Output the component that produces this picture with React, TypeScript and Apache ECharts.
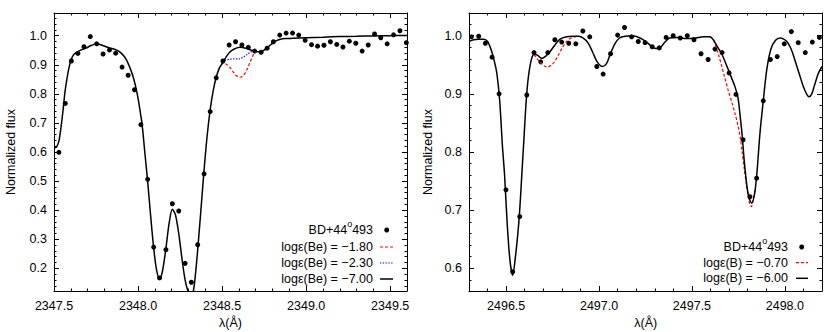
import React, { useEffect, useRef } from "react";
import * as echarts from "echarts";

// ---------- Left panel: Be II region ----------
const BE_OBS_WL = [
  2347.529, 2347.567, 2347.603, 2347.642, 2347.678, 2347.716, 2347.754, 2347.792, 2347.83, 2347.867,
  2347.905, 2347.941, 2347.979, 2348.017, 2348.057, 2348.093, 2348.128, 2348.166, 2348.204, 2348.242,
  2348.28, 2348.317, 2348.355, 2348.393, 2348.429, 2348.465, 2348.505, 2348.542, 2348.58, 2348.618,
  2348.656, 2348.694, 2348.732, 2348.768, 2348.805, 2348.843, 2348.881, 2348.919, 2348.956, 2348.994,
  2349.032, 2349.068, 2349.106, 2349.144, 2349.182, 2349.219, 2349.257, 2349.295, 2349.333, 2349.369,
  2349.407, 2349.444, 2349.482, 2349.52, 2349.558, 2349.596,
];
const BE_OBS_FLUX = [
  0.599, 0.767, 0.913, 0.939, 0.962, 0.997, 0.972, 0.937, 0.951, 0.94,
  0.892, 0.864, 0.814, 0.694, 0.506, 0.273, 0.167, 0.264, 0.422, 0.397,
  0.217, 0.152, 0.281, 0.525, 0.739, 0.855, 0.913, 0.968, 0.979, 0.968,
  0.96, 0.947, 0.943, 0.957, 0.979, 1.002, 1.009, 1.009, 1.002, 0.984,
  0.969, 0.964, 0.967, 0.979, 0.97, 0.961, 0.981, 0.974, 0.947, 0.968,
  1.006, 0.993, 0.972, 1.003, 1.017, 0.976,
];
const BE_MODEL_WL = [
  2347.5, 2347.515, 2347.53, 2347.545, 2347.555, 2347.565, 2347.575, 2347.59, 2347.605, 2347.62,
  2347.65, 2347.69, 2347.72, 2347.755, 2347.79, 2347.83, 2347.87, 2347.9, 2347.93, 2347.955,
  2347.975, 2347.995, 2348.01, 2348.025, 2348.04, 2348.057, 2348.075, 2348.093, 2348.11, 2348.128,
  2348.145, 2348.165, 2348.185, 2348.204, 2348.222, 2348.242, 2348.262, 2348.28, 2348.3, 2348.315,
  2348.33, 2348.345, 2348.36, 2348.378, 2348.393, 2348.41, 2348.429, 2348.447, 2348.465, 2348.485,
  2348.505, 2348.525, 2348.548, 2348.575, 2348.607, 2348.64, 2348.67, 2348.7, 2348.73, 2348.75,
  2348.768, 2348.787, 2348.807, 2348.827, 2348.847, 2348.88, 2348.92, 2349.0, 2349.1, 2349.2,
  2349.3, 2349.4, 2349.5, 2349.6,
];
const BE_MODEL_FLUX = [
  0.614, 0.617, 0.64, 0.7, 0.75, 0.805, 0.845, 0.892, 0.922, 0.937,
  0.948, 0.957, 0.966, 0.972, 0.966, 0.958, 0.951, 0.94, 0.918, 0.885,
  0.85, 0.8, 0.75, 0.69, 0.6, 0.5, 0.38, 0.27, 0.195, 0.163,
  0.19, 0.265, 0.355, 0.403, 0.385, 0.32, 0.23, 0.16, 0.115, 0.1,
  0.125, 0.2, 0.3, 0.43, 0.54, 0.65, 0.745, 0.81, 0.857, 0.89,
  0.908, 0.928, 0.945, 0.955, 0.96, 0.957, 0.951, 0.946, 0.945, 0.95,
  0.958, 0.968, 0.977, 0.984, 0.988, 0.99, 0.991, 0.993, 0.995, 0.997,
  0.998, 0.999, 1.0, 1.001,
];
const BE_HIGH_WL = [2348.495, 2348.505, 2348.525, 2348.548, 2348.565, 2348.585, 2348.607, 2348.625, 2348.645, 2348.667, 2348.685, 2348.7, 2348.72];
const BE_HIGH_FLUX = [0.9, 0.906, 0.902, 0.89, 0.876, 0.862, 0.857, 0.862, 0.88, 0.91, 0.933, 0.944, 0.945];
const BE_MID_WL = [2348.505, 2348.52, 2348.545, 2348.57, 2348.6, 2348.625, 2348.65, 2348.675, 2348.7];
const BE_MID_FLUX = [0.908, 0.916, 0.919, 0.92, 0.92, 0.926, 0.936, 0.945, 0.946];

// ---------- Right panel: B I region ----------
const B_OBS_WL = [
  2496.313, 2496.352, 2496.388, 2496.424, 2496.462, 2496.499, 2496.535, 2496.573, 2496.611, 2496.65,
  2496.686, 2496.724, 2496.762, 2496.799, 2496.837, 2496.875, 2496.913, 2496.95, 2496.988, 2497.022,
  2497.062, 2497.1, 2497.137, 2497.175, 2497.211, 2497.248, 2497.286, 2497.324, 2497.361, 2497.399,
  2497.437, 2497.475, 2497.511, 2497.549, 2497.587, 2497.624, 2497.662, 2497.7, 2497.737, 2497.775,
  2497.812, 2497.848, 2497.884, 2497.922, 2497.959, 2497.997, 2498.035, 2498.072, 2498.11, 2498.148,
  2498.186,
];
const B_OBS_FLUX = [
  0.998, 0.999, 0.987, 0.963, 0.9, 0.735, 0.594, 0.689, 0.898, 0.971,
  0.955, 0.971, 0.993, 0.989, 0.987, 0.986, 1.008, 0.998, 0.947, 0.934,
  0.969, 1.001, 1.014, 0.998, 0.99, 0.988, 0.981, 0.979, 0.997, 1.0,
  0.996, 1.0, 0.993, 0.969, 0.959, 0.977, 0.971, 0.936, 0.899, 0.821,
  0.723, 0.755, 0.888, 0.959, 0.964, 0.986, 1.007, 0.988, 0.971, 0.989,
  0.997,
];
const B_MODEL_WL = [
  2496.3, 2496.325, 2496.35, 2496.38, 2496.4, 2496.42, 2496.435, 2496.45, 2496.465, 2496.48,
  2496.492, 2496.505, 2496.52, 2496.535, 2496.55, 2496.563, 2496.573, 2496.585, 2496.597, 2496.609,
  2496.62, 2496.635, 2496.65, 2496.67, 2496.69, 2496.71, 2496.735, 2496.76, 2496.79, 2496.825,
  2496.86, 2496.89, 2496.915, 2496.94, 2496.965, 2496.99, 2497.019, 2497.04, 2497.06, 2497.085,
  2497.11, 2497.14, 2497.18, 2497.22, 2497.256, 2497.285, 2497.305, 2497.33, 2497.355, 2497.38,
  2497.42, 2497.47, 2497.52, 2497.56, 2497.597, 2497.615, 2497.635, 2497.66, 2497.685, 2497.71,
  2497.732, 2497.748, 2497.76, 2497.77, 2497.78, 2497.792, 2497.806, 2497.822, 2497.838, 2497.85,
  2497.866, 2497.884, 2497.902, 2497.925, 2497.95, 2497.975, 2498.0, 2498.02, 2498.04, 2498.06,
  2498.08, 2498.1, 2498.118, 2498.13, 2498.145, 2498.16, 2498.18, 2498.2,
];
const B_MODEL_FLUX = [
  0.99, 0.993, 0.994, 0.994, 0.99, 0.975, 0.958, 0.935, 0.889, 0.81,
  0.758, 0.68, 0.615, 0.588, 0.62, 0.66, 0.7, 0.765, 0.83, 0.893,
  0.93, 0.958, 0.968, 0.966, 0.961, 0.964, 0.972, 0.983, 0.994, 0.998,
  0.999, 0.999, 0.996, 0.988, 0.972, 0.955, 0.947, 0.952, 0.968, 0.986,
  0.996, 0.999, 1.0, 0.996, 0.989, 0.981, 0.978, 0.98, 0.989, 0.996,
  0.997, 0.995, 0.996, 0.998, 0.998, 0.993, 0.982, 0.969, 0.95, 0.93,
  0.912, 0.893, 0.86, 0.83, 0.79, 0.752, 0.722, 0.712, 0.73, 0.765,
  0.832, 0.888, 0.94, 0.977, 0.992, 0.996, 0.993, 0.986, 0.972, 0.952,
  0.932, 0.912, 0.899, 0.895, 0.9, 0.915, 0.935, 0.947,
];
const B_HIGH_A_WL = [2496.65, 2496.67, 2496.69, 2496.71, 2496.725, 2496.745, 2496.762, 2496.78, 2496.8, 2496.825, 2496.85, 2496.88];
const B_HIGH_A_FLUX = [0.968, 0.959, 0.952, 0.947, 0.946, 0.95, 0.956, 0.966, 0.978, 0.99, 0.996, 0.999];
const B_HIGH_B_WL = [2497.597, 2497.615, 2497.63, 2497.645, 2497.66, 2497.675, 2497.696, 2497.715, 2497.732, 2497.748, 2497.76, 2497.77, 2497.78, 2497.795, 2497.81, 2497.82, 2497.83, 2497.84];
const B_HIGH_B_FLUX = [0.998, 0.993, 0.98, 0.965, 0.948, 0.93, 0.905, 0.885, 0.866, 0.845, 0.825, 0.8, 0.775, 0.74, 0.712, 0.706, 0.718, 0.735];

// ---------- Axes / ticks ----------
const BE_X_RANGE = [2347.5, 2349.6];
const BE_Y_RANGE = [0.122, 1.078];
const B_X_RANGE = [2496.3, 2498.2];
const B_Y_RANGE = [0.561, 1.039];
const BE_X_TICKS = [2347.5, 2348.0, 2348.5, 2349.0, 2349.5];
const BE_Y_TICKS = [0.2, 0.3, 0.4, 0.5, 0.6, 0.7, 0.8, 0.9, 1.0];
const B_X_TICKS = [2496.5, 2497.0, 2497.5, 2498.0];
const B_Y_TICKS = [0.6, 0.7, 0.8, 0.9, 1.0];

const BE_LEGEND = ["logε(Be) = −1.80", "logε(Be) = −2.30", "logε(Be) = −7.00"];
const B_LEGEND = ["logε(B) = −0.70", "logε(B) = −6.00"];
const Y_TITLE = "Normalized flux";
const X_TITLE = "λ(Å)";

const FONT = "Liberation Sans, Arial, Helvetica, sans-serif";

function minorTicks(range: number[], step: number): number[] {
  const out: number[] = [];
  const start = Math.ceil(range[0] / step - 1e-6);
  const end = Math.floor(range[1] / step + 1e-6);
  for (let i = start; i <= end; i++) {
    const v = Math.round(i * step * 1e6) / 1e6;
    if (v > range[0] && v < range[1]) out.push(v);
  }
  return out;
}

function zip(a: number[], b: number[]) {
  return a.map((v, i) => [v, b[i]]);
}

function axisSet(
  dim: "x" | "y",
  gridIndex: number,
  range: number[],
  majors: number[],
  minorStep: number
) {
  const minors = minorTicks(range, minorStep);
  const posMain = dim === "x" ? "bottom" : "left";
  const posMirror = dim === "x" ? "top" : "right";
  const base = (position: string, ticks: number[], len: number, line: boolean, labels: boolean) => ({
    type: "value",
    gridIndex,
    position,
    min: range[0],
    max: range[1],
    axisLine: { show: line, onZero: false, lineStyle: { color: "#000", width: 1 } },
    axisTick: {
      show: true,
      inside: true,
      length: len,
      customValues: ticks,
      lineStyle: { color: "#000", width: 1 },
    },
    axisLabel: {
      show: labels,
      customValues: labels ? majors : undefined,
      formatter: (v: number) => v.toFixed(1),
      color: "#000",
      fontFamily: FONT,
      fontSize: 12.5,
      margin: dim === "x" ? 8 : 7,
    },
    splitLine: { show: false },
    minorTick: { show: false },
    minorSplitLine: { show: false },
  });
  return [
    base(posMain, majors, 5, true, true),
    base(posMain, minors, 2.5, false, false),
    base(posMirror, majors, 5, true, false),
    base(posMirror, minors, 2.5, false, false),
  ];
}

export default function App() {
  const ref = useRef<HTMLDivElement>(null);

  useEffect(() => {
    if (!ref.current) return;
    const chart = echarts.init(ref.current, undefined, { renderer: "svg" });

    const xAxes = [
      ...axisSet("x", 0, BE_X_RANGE, BE_X_TICKS, 0.1),
      ...axisSet("x", 1, B_X_RANGE, B_X_TICKS, 0.1),
    ];
    const yAxes = [
      ...axisSet("y", 0, BE_Y_RANGE, BE_Y_TICKS, 0.02),
      ...axisSet("y", 1, B_Y_RANGE, B_Y_TICKS, 0.02),
    ];

    const lineBase = {
      type: "line",
      showSymbol: false,
      symbol: "none",
      smooth: 0.3,
      clip: true,
      silent: true,
    };

    const scatterBase = {
      type: "scatter",
      symbol: "circle",
      symbolSize: 5,
      itemStyle: { color: "#000", opacity: 1 },
      clip: true,
      silent: true,
    };

    const series: any[] = [
      // Left panel
      { ...scatterBase, xAxisIndex: 0, yAxisIndex: 0, data: zip(BE_OBS_WL, BE_OBS_FLUX) },
      {
        ...lineBase,
        xAxisIndex: 0,
        yAxisIndex: 0,
        data: zip(BE_HIGH_WL, BE_HIGH_FLUX),
        lineStyle: { color: "#ff0000", width: 1.2, type: [3, 2] },
      },
      {
        ...lineBase,
        xAxisIndex: 0,
        yAxisIndex: 0,
        data: zip(BE_MID_WL, BE_MID_FLUX),
        lineStyle: { color: "#0000ff", width: 1.2, type: [1.3, 1.5] },
      },
      {
        ...lineBase,
        xAxisIndex: 0,
        yAxisIndex: 0,
        data: zip(BE_MODEL_WL, BE_MODEL_FLUX),
        lineStyle: { color: "#000", width: 1.5 },
      },
      // Right panel
      { ...scatterBase, xAxisIndex: 4, yAxisIndex: 4, data: zip(B_OBS_WL, B_OBS_FLUX) },
      {
        ...lineBase,
        xAxisIndex: 4,
        yAxisIndex: 4,
        data: zip(B_HIGH_A_WL, B_HIGH_A_FLUX),
        lineStyle: { color: "#ff0000", width: 1.2, type: [3, 2] },
      },
      {
        ...lineBase,
        xAxisIndex: 4,
        yAxisIndex: 4,
        data: zip(B_HIGH_B_WL, B_HIGH_B_FLUX),
        lineStyle: { color: "#ff0000", width: 1.2, type: [3, 2] },
      },
      {
        ...lineBase,
        xAxisIndex: 4,
        yAxisIndex: 4,
        data: zip(B_MODEL_WL, B_MODEL_FLUX),
        lineStyle: { color: "#000", width: 1.5 },
      },
    ];

    const txt = (x: number, y: number, text: string, extra: any = {}, rotation = 0) => ({
      type: "text",
      x,
      y,
      rotation,
      silent: true,
      style: {
        text,
        fill: "#000",
        fontFamily: FONT,
        fontSize: 12.5,
        textAlign: "right",
        textVerticalAlign: "middle",
        ...extra,
      },
    });

    const starLabel = (x: number, y: number) => ({
      type: "text",
      x,
      y,
      silent: true,
      style: {
        text: "{b|BD+44}{s|o}{b|493}",
        textAlign: "right",
        textVerticalAlign: "middle",
        rich: {
          b: { fontFamily: FONT, fontSize: 12.5, fill: "#000", lineHeight: 21 },
          s: { fontFamily: FONT, fontSize: 9, fill: "#000", lineHeight: 10, verticalAlign: "top" },
        },
      },
    });

    const legLine = (x1: number, x2: number, y: number, color: string, dash: any, width = 1.2) => ({
      type: "line",
      silent: true,
      shape: { x1, y1: y, x2, y2: y },
      style: { stroke: color, lineWidth: width, lineDash: dash },
    });

    const dot = (cx: number, cy: number) => ({
      type: "circle",
      silent: true,
      shape: { cx, cy, r: 2.5 },
      style: { fill: "#000" },
    });

    const graphic: any[] = [
      // Left legend
      starLabel(373, 230),
      dot(386.7, 230),
      txt(373, 247, BE_LEGEND[0]),
      legLine(380, 393, 247, "#ff0000", [3, 2]),
      txt(373, 263, BE_LEGEND[1]),
      legLine(380, 393, 263, "#0000ff", [1.3, 1.5]),
      txt(373, 279, BE_LEGEND[2]),
      legLine(380, 393, 279, "#000", null, 1.5),
      // Right legend
      starLabel(788, 247),
      dot(801.7, 247),
      txt(788, 262.7, B_LEGEND[0]),
      legLine(796, 808, 262.7, "#ff0000", [3, 2]),
      txt(788, 278.3, B_LEGEND[1]),
      legLine(796, 808, 278.3, "#000", null, 1.5),
      // Axis titles
      txt(11, 152, Y_TITLE, { textAlign: "center" }, Math.PI / 2),
      txt(428, 152, Y_TITLE, { textAlign: "center" }, Math.PI / 2),
      txt(230.5, 322.5, X_TITLE, { textAlign: "center" }),
      txt(645.7, 322.5, X_TITLE, { textAlign: "center" }),
    ];

    chart.setOption({
      animation: false,
      backgroundColor: "#fff",
      grid: [
        { left: 54, right: 423, top: 13, bottom: 41, containLabel: false },
        { left: 469, right: 8, top: 13, bottom: 41, containLabel: false },
      ],
      xAxis: xAxes,
      yAxis: yAxes,
      series,
      graphic,
    } as any);

    return () => chart.dispose();
  }, []);

  return (
    <div
      ref={ref}
      style={{ position: "fixed", left: 0, top: 0, width: 830, height: 332, background: "#fff" }}
    />
  );
}
